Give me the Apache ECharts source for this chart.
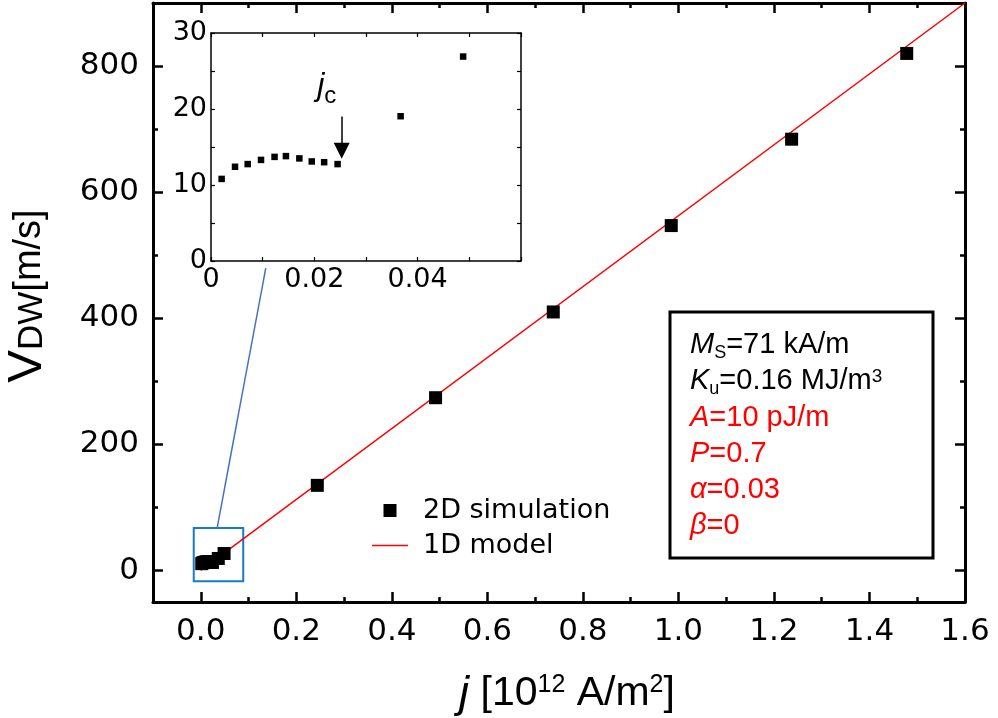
<!DOCTYPE html>
<html><head><meta charset="utf-8">
<script src="https://cdn.jsdelivr.net/npm/echarts@6/dist/echarts.min.js"></script>
<style>html,body{margin:0;padding:0;background:#fff}#c{width:998px;height:718px}</style>
</head><body><div id="c"></div>
<script>
// ---------- data ----------
const lowJ = [0.00206,0.00465,0.0071,0.00968,0.0123,0.0145,0.0171,0.0195,0.0219,0.0245,0.0367,0.0488];
const lowV = [10.8,12.4,12.75,13.3,13.7,13.8,13.5,13.1,13.0,12.75,19.05,26.9];
const highJ = [0.244,0.4916,0.738,0.985,1.237,1.478];
const highV = [135,274,410,547,684,820];
const modelJ = [0, 1.6];
const modelV = [0, 900];
const xTicks = [0,0.2,0.4,0.6,0.8,1.0,1.2,1.4,1.6];
const xMinorTicks = [-0.1,0.1,0.3,0.5,0.7,0.9,1.1,1.3,1.5];
const yTicks = [0,200,400,600,800];
const yMinorTicks = [100,300,500,700,900];
const insetXTicks = [0,0.02,0.04];
const insetYTicks = [0,10,20,30];
const seriesNames = ['2D simulation','1D model'];
const paramLines = [
  '{i|M}{sub|S}{n|=71 kA/m}',
  '{i|K}{sub|u}{n|=0.16 MJ/m}{sup|3}',
  '{ir|A}{nr|=10 pJ/m}',
  '{ir|P}{nr|=0.7}',
  '{ir|α}{nr|=0.03}',
  '{ir|β}{nr|=0}'
];

// ---------- chart ----------
const chart = echarts.init(document.getElementById('c'));
const TF = 'DejaVu Sans';        // chart-internal text
const AF = 'Liberation Sans, Arial, sans-serif';
const K = '#000';
const RED = '#ff0000';

function ax(grid, pos, min, max, opt) {
  return Object.assign({
    gridIndex: grid, type: 'value', position: pos, min: min, max: max,
    axisLine: {show: false, onZero: false},
    axisTick: {show: false},
    axisLabel: {show: false},
    splitLine: {show: false}
  }, opt);
}
const mainLine = {show: true, onZero: false, lineStyle: {color: K, width: 3}};
const majTick = v => ({show: true, inside: true, length: 10, customValues: v, lineStyle: {color: K, width: 2.5}});
const minTick = v => ({show: true, inside: true, length: 5, customValues: v, lineStyle: {color: K, width: 2.5}});
const insLine = {show: true, onZero: false, lineStyle: {color: K, width: 1.5}};
const insTick = {show: true, inside: true, length: 4, lineStyle: {color: K, width: 1.2}};

const xAxes = [
  ax(0,'bottom',-0.1,1.6,{axisLine: mainLine, axisTick: majTick(xTicks),
    axisLabel: {show: true, customValues: xTicks, formatter: v => v.toFixed(1), fontSize: 31, fontFamily: TF, color: K, margin: 14}}),
  ax(0,'bottom',-0.1,1.6,{axisTick: minTick(xMinorTicks)}),
  ax(0,'top',-0.1,1.6,{axisLine: mainLine, axisTick: majTick(xTicks)}),
  ax(0,'top',-0.1,1.6,{axisTick: minTick(xMinorTicks)}),
  ax(1,'bottom',0,0.06,{interval: 0.01, axisLine: insLine, axisTick: insTick,
    axisLabel: {show: true, customValues: insetXTicks, formatter: v => v === 0 ? '0' : v.toFixed(2), fontSize: 27, fontFamily: TF, color: K, margin: 5}}),
  ax(1,'top',0,0.06,{interval: 0.01, axisLine: insLine, axisTick: insTick})
];
const yAxes = [
  ax(0,'left',-50,900,{axisLine: mainLine, axisTick: majTick(yTicks),
    axisLabel: {show: true, customValues: yTicks, formatter: v => String(v), fontSize: 31, fontFamily: TF, color: K, margin: 14}}),
  ax(0,'left',-50,900,{axisTick: minTick(yMinorTicks)}),
  ax(0,'right',-50,900,{axisLine: mainLine, axisTick: majTick(yTicks)}),
  ax(0,'right',-50,900,{axisTick: minTick(yMinorTicks)}),
  ax(1,'left',0,30,{interval: 5, axisLine: insLine, axisTick: insTick,
    axisLabel: {show: true, customValues: insetYTicks, formatter: v => String(v), fontSize: 27, fontFamily: TF, color: K, margin: 4}}),
  ax(1,'right',0,30,{interval: 5, axisLine: insLine, axisTick: insTick})
];

const allJ = lowJ.concat(highJ), allV = lowV.concat(highV);
const simData = allJ.map((j, i) => [j, allV[i]]);
const lowData = lowJ.map((j, i) => [j, lowV[i]]);
const modelData = modelJ.map((j, i) => [j, modelV[i]]);

const LH = 36.2;
const paramRich = {
  i:  {fontFamily: AF, fontSize: 29, fontStyle: 'italic', fill: K, lineHeight: LH},
  n:  {fontFamily: AF, fontSize: 29, fill: K, lineHeight: LH},
  sub:{fontFamily: AF, fontSize: 18, fill: K, lineHeight: LH, padding: [15,0,0,0]},
  sup:{fontFamily: AF, fontSize: 19, fill: K, lineHeight: LH, padding: [0,0,9,0]},
  ir: {fontFamily: AF, fontSize: 29, fontStyle: 'italic', fill: RED, lineHeight: LH},
  nr: {fontFamily: AF, fontSize: 29, fill: RED, lineHeight: LH}
};

const option = {
  animation: false,
  backgroundColor: '#fff',
  grid: [
    {left: 153, top: 3, right: 33, bottom: 116},
    {left: 211, top: 33, right: 477, bottom: 457, show: true, backgroundColor: '#fff', borderWidth: 0}
  ],
  xAxis: xAxes,
  yAxis: yAxes,
  legend: {
    data: [
      {name: seriesNames[0], icon: 'path://M0,0h1v1h-1z'},
      {name: seriesNames[1], icon: 'path://M0,0h36v1.5h-36z'}
    ],
    orient: 'vertical', left: 372, top: 497, padding: 0,
    itemWidth: 36, itemHeight: 13, itemGap: 8, selectedMode: false,
    textStyle: {fontSize: 27, fontFamily: TF, color: K, padding: [0,0,0,10]}
  },
  series: [
    {
      name: seriesNames[1], type: 'line', xAxisIndex: 0, yAxisIndex: 0,
      data: modelData, symbol: 'none', z: 2,
      lineStyle: {color: RED, width: 1.5}, itemStyle: {color: RED}
    },
    {
      name: seriesNames[0], type: 'scatter', xAxisIndex: 0, yAxisIndex: 0,
      data: simData, symbol: 'rect', symbolSize: 13, z: 3,
      itemStyle: {color: K, opacity: 1},
      markArea: {
        silent: true, label: {show: false},
        itemStyle: {color: 'rgba(0,0,0,0)', borderColor: '#1a7ac8', borderWidth: 2},
        data: [[{coord: [-0.0147, -17]}, {coord: [0.0889, 67.3]}]]
      }
    },
    {
      name: 'inset', type: 'scatter', xAxisIndex: 4, yAxisIndex: 4,
      data: lowData, symbol: 'rect', symbolSize: 6.5, z: 10,
      itemStyle: {color: K, opacity: 1},
      markLine: {
        silent: true, symbol: ['none', 'triangle'], symbolSize: 16,
        label: {show: false},
        lineStyle: {color: K, width: 1.5, type: 'solid'},
        data: [[{coord: [0.0253, 19.0]}, {coord: [0.0253, 14.5]}]]
      },
      markPoint: {
        silent: true, symbol: 'circle', symbolSize: 0,
        label: {show: true, position: 'inside', formatter: '{j|j}{c|c}',
          rich: {
            j: {fontFamily: AF, fontSize: 32, fontStyle: 'italic', color: K},
            c: {fontFamily: AF, fontSize: 24, color: K, padding: [20,0,0,0]}
          }},
        data: [{coord: [0.0224, 23.0]}]
      }
    }
  ],
  graphic: [
    {type: 'rect', shape: {x: 670, y: 312, width: 263, height: 246},
      style: {fill: '#fff', stroke: K, lineWidth: 3}, z: 20},
    {type: 'text', x: 690, y: 327, z: 21,
      style: {text: paramLines.join('\n'), rich: paramRich, verticalAlign: 'top', align: 'left'}},
    {type: 'text', x: 27, y: 296, rotation: Math.PI / 2, z: 21,
      style: {text: '{v|V}{s|DW}{n|[m/s]}', align: 'center', verticalAlign: 'middle',
        rich: {
          v: {fontFamily: AF, fontSize: 49, fill: K},
          s: {fontFamily: AF, fontSize: 35, fill: K, padding: [10,0,0,0]},
          n: {fontFamily: AF, fontSize: 38, fill: K, padding: [6,0,0,0]}
        }}},
    {type: 'text', x: 567, y: 694, z: 21,
      style: {text: '{j|j}{n| [10}{sup|12}{n| A/m}{sup|2}{n|]}', align: 'center', verticalAlign: 'middle',
        rich: {
          j: {fontFamily: AF, fontSize: 45, fontStyle: 'italic', fill: K},
          n: {fontFamily: AF, fontSize: 41, fill: K},
          sup: {fontFamily: AF, fontSize: 25, fill: K, padding: [0,0,18,0]}
        }}}
  ]
};
chart.setOption(option);

// connector from zoom box to inset, located through the axes' scales
const p1 = chart.convertToPixel({xAxisIndex: 0, yAxisIndex: 0}, [0.0342, 67.3]);
const p2 = chart.convertToPixel({xAxisIndex: 4, yAxisIndex: 4}, [0.0106, -0.95]);
chart.setOption({graphic: option.graphic.concat([
  {type: 'line', shape: {x1: p1[0], y1: p1[1], x2: p2[0], y2: p2[1]},
    style: {stroke: '#4472c4', lineWidth: 1.5}, z: 15}
])});
</script></body></html>
